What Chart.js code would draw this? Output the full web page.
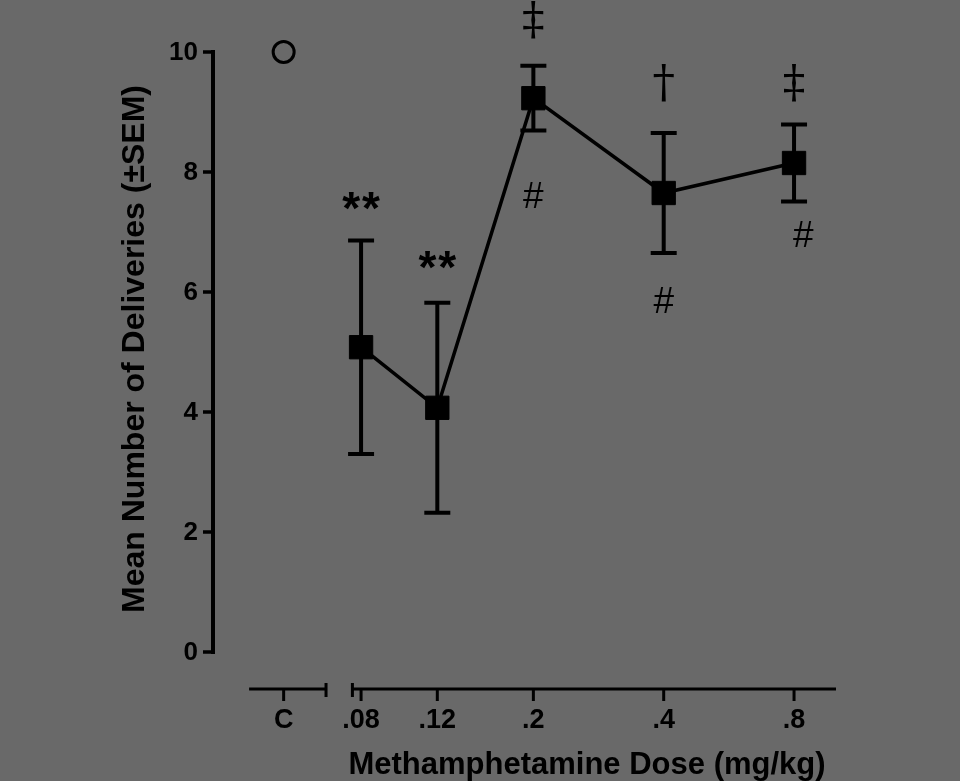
<!DOCTYPE html>
<html>
<head>
<meta charset="utf-8">
<script src="https://cdn.jsdelivr.net/npm/chart.js@4"></script>
<style>
html,body{margin:0;padding:0;background:#696969;}
#wrap{width:960px;height:781px;}
</style>
</head>
<body>
<div id="wrap"><canvas id="c" width="960" height="781"></canvas></div>
<script>
// ---- data ----
const categories = ['C', '.08', '.12', '.2', '.4', '.8'];
const doses = [0.053, 0.08, 0.12, 0.2, 0.4, 0.8];
const controlMean = [10];
const methMean = [5.08, 4.07, 9.23, 7.65, 8.15];
const methSem = [1.78, 1.75, 0.54, 1.0, 0.64];
const yTicks = [0, 2, 4, 6, 8, 10];
const annotText = ['**', '**', '\u2021', '#', '\u2020', '#', '\u2021', '#'];
const annotX = [0.08, 0.12, 0.2, 0.2, 0.4, 0.4, 0.8, 0.84];
const annotY = [7.53, 6.55, 10.5, 7.57, 9.45, 5.82, 9.45, 6.92];
const xTitle = 'Methamphetamine Dose (mg/kg)';
const yTitle = 'Mean Number of Deliveries (\u00b1SEM)';

const controlPts = controlMean.map((v, i) => ({x: doses[i], y: v}));
const methPts = methMean.map((v, i) => ({x: doses[i + 1], y: v}));

const FONT = '"Liberation Sans", Arial, sans-serif';

const customDraw = {
  id: 'customDraw',
  beforeDatasetsDraw(chart) {
    const ctx = chart.ctx, xs = chart.scales.x, ys = chart.scales.y;
    ctx.save();
    ctx.strokeStyle = '#000';
    ctx.lineWidth = 4;
    methMean.forEach((m, i) => {
      const px = xs.getPixelForValue(doses[i + 1]);
      const top = ys.getPixelForValue(m + methSem[i]);
      const bot = ys.getPixelForValue(m - methSem[i]);
      ctx.beginPath();
      ctx.moveTo(px, top); ctx.lineTo(px, bot);
      ctx.moveTo(px - 13, top); ctx.lineTo(px + 13, top);
      ctx.moveTo(px - 13, bot); ctx.lineTo(px + 13, bot);
      ctx.stroke();
    });
    ctx.restore();
  },
  afterDraw(chart) {
    const ctx = chart.ctx, xs = chart.scales.x, ys = chart.scales.y;
    const area = chart.chartArea;
    ctx.save();
    ctx.strokeStyle = '#000';
    ctx.fillStyle = '#000';
    // y axis
    const ax = area.left;
    ctx.lineWidth = 4;
    ctx.beginPath();
    ctx.moveTo(ax, ys.getPixelForValue(10) - 2);
    ctx.lineTo(ax, ys.getPixelForValue(0) + 2);
    ctx.stroke();
    ctx.lineWidth = 3.5;
    ctx.font = 'bold 26px ' + FONT;
    ctx.textAlign = 'right';
    ctx.textBaseline = 'middle';
    yTicks.forEach(t => {
      const py = ys.getPixelForValue(t);
      ctx.beginPath();
      ctx.moveTo(ax - 10, py); ctx.lineTo(ax, py);
      ctx.stroke();
      ctx.fillText(String(t), ax - 15, py + 1);
    });
    // x axis (broken)
    const ay = area.bottom + 37;
    ctx.lineWidth = 3;
    const s1a = xs.getPixelForValue(0.0441), s1b = xs.getPixelForValue(0.0664);
    const s2a = xs.getPixelForValue(0.0764), s2b = xs.getPixelForValue(1.0);
    ctx.beginPath();
    ctx.moveTo(s1a, ay); ctx.lineTo(s1b, ay);
    ctx.moveTo(s1b, ay - 6); ctx.lineTo(s1b, ay + 8);
    ctx.moveTo(s2a, ay - 6); ctx.lineTo(s2a, ay + 8);
    ctx.moveTo(s2a, ay); ctx.lineTo(s2b, ay);
    ctx.stroke();
    ctx.font = 'bold 27px ' + FONT;
    ctx.textAlign = 'center';
    ctx.textBaseline = 'middle';
    categories.forEach((c, i) => {
      const px = xs.getPixelForValue(doses[i]);
      ctx.beginPath();
      ctx.moveTo(px, ay); ctx.lineTo(px, ay + 12);
      ctx.stroke();
      ctx.fillText(c, px, ay + 32);
    });
    // titles
    ctx.font = 'bold 31px ' + FONT;
    ctx.fillText(xTitle, 587, 765);
    ctx.save();
    ctx.translate(135, 349);
    ctx.rotate(-Math.PI / 2);
    ctx.font = 'bold 32px ' + FONT;
    ctx.fillText(yTitle, 0, 0);
    ctx.restore();
    // annotations
    annotText.forEach((t, i) => {
      const px = xs.getPixelForValue(annotX[i]);
      const py = ys.getPixelForValue(annotY[i]);
      if (t === '**') {
        ctx.font = 'bold 46px ' + FONT;
        ctx.letterSpacing = '2px';
        ctx.fillText(t, px + 1, py + 11);
        ctx.letterSpacing = '0px';
      } else if (t === '#') {
        ctx.font = '37px ' + FONT;
        ctx.fillText(t, px, py);
      } else {
        ctx.font = '45px "DejaVu Serif", serif';
        ctx.fillText(t, px, py);
      }
    });
    ctx.restore();
  }
};

new Chart(document.getElementById('c'), {
  type: 'line',
  data: {
    datasets: [
      {
        label: 'Control',
        data: controlPts,
        showLine: false,
        pointStyle: 'circle',
        pointRadius: 10.5,
        pointBackgroundColor: 'rgba(0,0,0,0)',
        pointBorderColor: '#000',
        pointBorderWidth: 3,
        clip: false
      },
      {
        label: 'Methamphetamine',
        data: methPts,
        borderColor: '#000',
        borderWidth: 3.5,
        pointStyle: 'rect',
        pointRadius: 16.5,
        pointBackgroundColor: '#000',
        pointBorderColor: '#000',
        pointBorderWidth: 1,
        tension: 0,
        clip: false
      }
    ]
  },
  options: {
    responsive: false,
    animation: false,
    devicePixelRatio: 1,
    layout: {padding: {left: 213, right: 124, top: 52, bottom: 129}},
    plugins: {legend: {display: false}, tooltip: {enabled: false}},
    scales: {
      x: {type: 'logarithmic', min: 0.0364, max: 1.0, display: false},
      y: {type: 'linear', min: 0, max: 10, display: false}
    }
  },
  plugins: [customDraw]
});
</script>
</body>
</html>
